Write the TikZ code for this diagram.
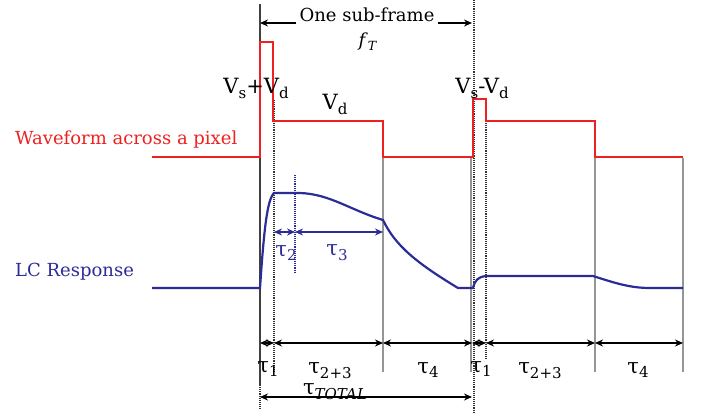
\documentclass[tikz,border=0pt]{standalone}
\usepackage{fontspec}
\setmainfont{DejaVu Serif}
\usetikzlibrary{arrows.meta}
\definecolor{wred}{RGB}{238,32,32}
\definecolor{lcblue}{RGB}{44,44,150}
\definecolor{gridgray}{RGB}{150,150,150}
\newcommand\lowsub[1]{\raisebox{-0.45ex}{\fontsize{15}{17}\selectfont #1}}
\begin{document}
\begin{tikzpicture}[x=1pt,y=-1pt,
  wave/.style={wred,line width=2.4pt},
  lc/.style={lcblue,line width=2.2pt},
  gridline/.style={gridgray,line width=1.6pt},
  dotline/.style={black!80,densely dotted,line width=1.1pt},
  tip/.tip={Stealth[length=8pt,width=7pt]},
  dim/.style={black,line width=1.4pt,tip-tip},
  bdim/.style={lcblue,line width=1.4pt,tip-tip},
  lbl/.style={inner sep=0pt,font=\fontsize{18}{21}\selectfont},
  vlbl/.style={inner sep=0pt,font=\fontsize{21}{24}\selectfont},
  tlbl/.style={inner sep=0pt,font=\fontsize{21}{24}\selectfont}]
\useasboundingbox (0,0) rectangle (702,416);

% vertical guide lines
\draw[black!75,line width=1.2pt] (260,4) -- (260,385);
\draw[dotline] (260,385) -- (260,410);
\draw[dotline] (274,100) -- (274,372);
\draw[gridline] (383,158) -- (383,372);
\draw[gridline] (471,158) -- (471,372);
\draw[dotline] (474,0) -- (474,412);
\draw[dotline] (486,100) -- (486,360);
\draw[gridline] (595,158) -- (595,372);
\draw[gridline] (683,158) -- (683,372);
\draw[lcblue,densely dotted,line width=1.1pt] (295,175) -- (295,272);

% red waveform
\draw[wave] (152,157) -- (260,157) -- (260,42) -- (273,42) -- (273,121) -- (383,121)
  -- (383,157) -- (473,157) -- (473,99) -- (486,99) -- (486,121) -- (595,121)
  -- (595,157) -- (683,157);

% LC response
\draw[lc] (152,288) -- (260,288) .. controls (264,230) and (267,200) .. (274,193)
  -- (300,193) .. controls (330,194) and (350,210) .. (383,220)
  .. controls (395,245) and (415,262) .. (458,288) -- (473,288)
  .. controls (475,280) and (478,277) .. (486,276) -- (593,276)
  .. controls (615,283) and (630,288) .. (650,288) -- (683,288);

% top: one sub-frame
\node[lbl] (sf) at (367,15) {One sub-frame};
\node[lbl] (fT) at (368,42) {\textit{f}\textsubscript{\textit{T}}};
\coordinate (sfL) at (260,23);
\coordinate (sfR) at (472,23);
\draw[black,line width=1.4pt,-tip] ([xshift=-3pt]sf.west |- sfL) -- (sfL);
\draw[black,line width=1.4pt,-tip] ([xshift=3pt]sf.east |- sfR) -- (sfR);

% voltage labels
\node[vlbl] (vsd) at (256,88) {V\lowsub{s}+V\lowsub{d}};
\node[vlbl] (vd) at (335,104) {V\lowsub{d}};
\node[vlbl] (vsmd) at (482,88) {V\lowsub{s}-V\lowsub{d}};

% side labels
\node[lbl,wred,anchor=west] (wl) at (15,140) {Waveform across a pixel};
\node[lbl,lcblue,anchor=west] (ll) at (15,272) {LC Response};

% tau2 / tau3
\coordinate (t2a) at (274,232);
\coordinate (t2b) at (295,232);
\coordinate (t3b) at (383,232);
\draw[bdim] (t2a) -- (t2b);
\draw[bdim] (t2b) -- (t3b);
\node[tlbl,lcblue] (tau2) at (286,253) {τ\lowsub{2}};
\node[tlbl,lcblue] (tau3) at (337,253) {τ\lowsub{3}};

% bottom dimension row
\coordinate (d0) at (260,343);
\coordinate (d1) at (274,343);
\coordinate (d2) at (383,343);
\coordinate (d3) at (472,343);
\coordinate (d4) at (486,343);
\coordinate (d5) at (595,343);
\coordinate (d6) at (683,343);
\draw[dim] (d0) -- (d1);
\draw[dim] (d1) -- (d2);
\draw[dim] (d2) -- (d3);
\draw[dim] (d3) -- (d4);
\draw[dim] (d4) -- (d5);
\draw[dim] (d5) -- (d6);
\node[tlbl] (a1) at (268,369) {τ\lowsub{1}};
\node[tlbl] (a2) at (330,371) {τ\lowsub{2+3}};
\node[tlbl] (a3) at (428,370) {τ\lowsub{4}};
\node[tlbl] (a4) at (481,369) {τ\lowsub{1}};
\node[tlbl] (a5) at (540,371) {τ\lowsub{2+3}};
\node[tlbl] (a6) at (638,370) {τ\lowsub{4}};

% total
\coordinate (tt0) at (260,397);
\coordinate (tt1) at (472,397);
\draw[dim] (tt0) -- (tt1);
\node[tlbl] (tot) at (335,392) {τ\lowsub{\textit{TOTAL}}};
\end{tikzpicture}
\end{document}
